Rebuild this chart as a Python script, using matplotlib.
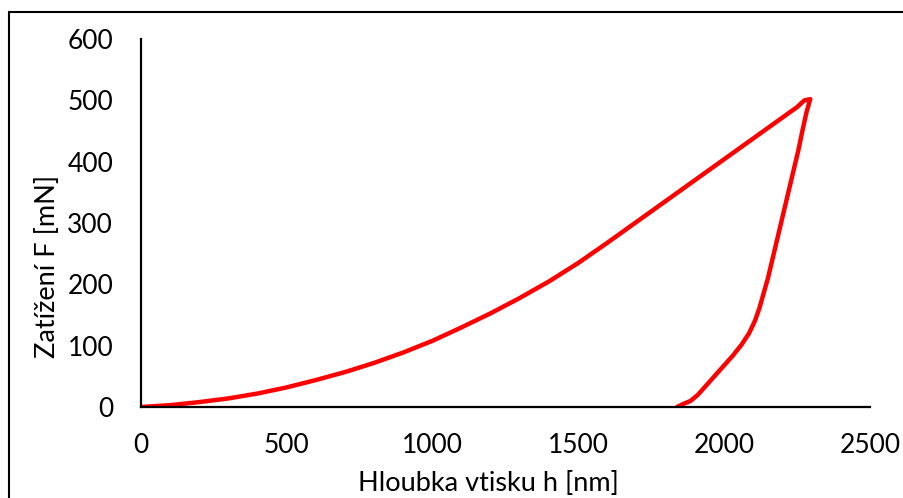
import matplotlib.pyplot as plt
from matplotlib.patches import Rectangle

# loading branch (depth in nm, force in mN)
load_h = [0, 100, 200, 300, 400, 500, 600, 700, 800, 900, 1000, 1100, 1200, 1300, 1400,
          1500, 1600, 1700, 1800, 1900, 2000, 2100, 2200, 2250, 2275, 2295]
load_F = [0, 3, 8, 14, 22, 32, 44, 57, 72, 89, 108, 130, 153, 178, 205,
          235, 268, 302, 336, 370, 404, 438, 472, 489, 500, 502]

# unloading branch
unload_h = [2295, 2282, 2268, 2255, 2240, 2225, 2210, 2195, 2180, 2165, 2150, 2135,
            2120, 2105, 2085, 2060, 2030, 2000, 1970, 1940, 1910, 1885, 1860, 1838]
unload_F = [502, 480, 450, 420, 390, 360, 330, 300, 270, 240, 210, 185,
            160, 140, 120, 102, 84, 68, 52, 36, 20, 10, 5, 0]

x_ticks = [0, 500, 1000, 1500, 2000, 2500]
y_ticks = [0, 100, 200, 300, 400, 500, 600]

plt.rcParams['font.family'] = ['Lato', 'DejaVu Sans']

fig = plt.figure(figsize=(9.04, 4.98), dpi=100)
ax = fig.add_axes([141 / 904, 91 / 498, 729 / 904, 368 / 498])

# chart area border like an Excel chart
fig.patches.append(Rectangle((9 / 904, -0.05), 1.0, (498 - 12) / 498 + 0.05,
                             transform=fig.transFigure, fill=False,
                             edgecolor='black', linewidth=1.5))

ax.plot(load_h + unload_h, load_F + unload_F, color='#FF0000', linewidth=3.2,
        solid_joinstyle='round', solid_capstyle='round')

ax.set_xlim(0, 2500)
ax.set_ylim(0, 600)
ax.set_xticks(x_ticks)
ax.set_yticks(y_ticks)
ax.tick_params(length=0, labelsize=19, pad=19)
ax.tick_params(axis='y', pad=20)

for side in ['top', 'right']:
    ax.spines[side].set_visible(False)
for side in ['left', 'bottom']:
    ax.spines[side].set_linewidth(1.6)
    ax.spines[side].set_color('black')

ax.set_xlabel('Hloubka vtisku h [nm]', fontsize=19.5)
ax.set_ylabel('Zatížení F [mN]', fontsize=19.5)
ax.xaxis.set_label_coords((488 - 141) / 729, -(483 - 407) / 368)
ax.yaxis.set_label_coords(-(141 - 47) / 729, (407 - 266) / 368)
ax.xaxis.label.set_va('center')
ax.yaxis.label.set_va('center')

fig.savefig('out.png', dpi=100)
